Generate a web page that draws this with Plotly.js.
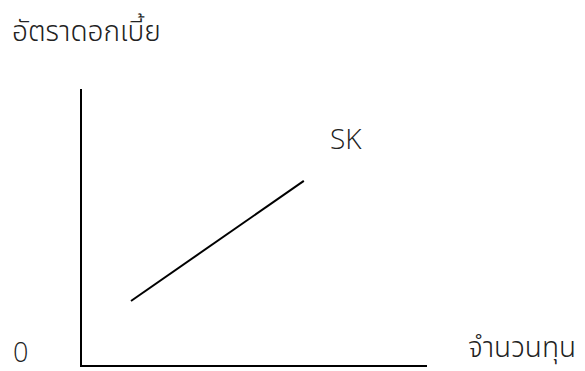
<!DOCTYPE html>
<html>
<head>
<meta charset="utf-8">
<script src="https://cdn.plot.ly/plotly-3.0.1.min.js"></script>
<style>html,body{margin:0;padding:0;background:#fff;}#chart{width:585px;height:371px;}</style>
</head>
<body>
<div id="chart"></div>
<script>
// Data (abstract units on a 0-10 scale)
const skX = [1.42, 6.43];
const skY = [2.32, 6.67];
const curveLabel = "SK";
const yTitle = "อัตราดอกเบี้ย";
const xTitle = "จำนวนทุน";
const originLabel = "0";

const FONT = "'Noto Sans Thai', 'Open Sans', 'Noto Sans', sans-serif";
const LATIN = "'Open Sans', 'Noto Sans', sans-serif";
const W = 585, H = 371;
const L = 82, R = 427, T = 89, B = 365;

const trace = {
  x: skX, y: skY, mode: 'lines', type: 'scatter',
  line: {color: '#000', width: 2}, hoverinfo: 'skip', showlegend: false
};

const layout = {
  width: W, height: H,
  margin: {l: L, r: W - R, t: T, b: H - B, pad: 0},
  paper_bgcolor: '#fff', plot_bgcolor: '#fff',
  font: {family: FONT, color: '#222', size: 28},
  title: {text: yTitle, x: 12 / W, xanchor: 'left', xref: 'container',
          y: 1 - 31 / H, yanchor: 'middle', yref: 'container',
          font: {family: FONT, size: 28, color: '#222', weight: 300}},
  xaxis: {range: [0, 10], showline: true, linecolor: '#000', linewidth: 2,
          showgrid: false, zeroline: false, showticklabels: false, ticks: '', fixedrange: true},
  yaxis: {range: [0, 10], showline: true, linecolor: '#000', linewidth: 2,
          showgrid: false, zeroline: false, showticklabels: false, ticks: '', fixedrange: true},
  annotations: [
    {text: curveLabel, x: 7.65, y: 8.24, xref: 'x', yref: 'y', showarrow: false,
     xanchor: 'center', yanchor: 'middle',
     font: {family: LATIN, size: 28, color: '#222', weight: 300}},
    {text: originLabel, x: (20 - L) / (R - L), y: (B - 351) / (B - T), xref: 'paper', yref: 'paper',
     showarrow: false, xanchor: 'center', yanchor: 'middle', borderpad: 0,
     font: {family: LATIN, size: 27, color: '#222', weight: 300}},
    {text: xTitle, x: (467 - L) / (R - L), y: (B - 348) / (B - T), xref: 'paper', yref: 'paper',
     showarrow: false, xanchor: 'left', yanchor: 'middle', borderpad: 0,
     font: {family: FONT, size: 28, color: '#222', weight: 300}}
  ]
};

Plotly.newPlot('chart', [trace], layout, {displayModeBar: false, staticPlot: true});
</script>
</body>
</html>
